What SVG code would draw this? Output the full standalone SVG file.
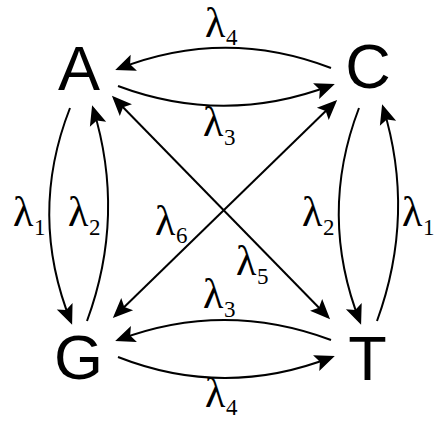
<svg xmlns="http://www.w3.org/2000/svg" width="435" height="421" viewBox="0 0 435 421">
<defs>
<marker id="ah" markerUnits="userSpaceOnUse" markerWidth="24" markerHeight="20" viewBox="-2 -10 24 20" refX="17" refY="0" orient="auto">
<path d="M0,-8.5 L20,0 L0,8.5 L4,0 Z" fill="#000"/>
</marker>
<marker id="ahs" markerUnits="userSpaceOnUse" markerWidth="24" markerHeight="20" viewBox="-2 -10 24 20" refX="17" refY="0" orient="auto-start-reverse">
<path d="M0,-8.5 L20,0 L0,8.5 L4,0 Z" fill="#000"/>
</marker>
</defs>
<style>
.n{font-family:"Liberation Sans",Arial,sans-serif;font-size:63px;fill:#000;text-anchor:middle}
.l{font-family:"Liberation Serif","Times New Roman",serif;font-size:42px;fill:#000}
.s{font-size:23px}
.e{fill:none;stroke:#000;stroke-width:2}
</style>
<rect width="435" height="421" fill="#fff"/>
<g id="connectors">
<path class="e" marker-end="url(#ah)" d="M331,68 Q224,27 118,69"/>
<path class="e" marker-end="url(#ah)" d="M118,86 Q225,126 332,85"/>
<path class="e" marker-end="url(#ah)" d="M331,340 Q224,300 118,340"/>
<path class="e" marker-end="url(#ah)" d="M118,357 Q225,399 332,357"/>
<path class="e" marker-end="url(#ah)" d="M70,108 Q28,215 71,322"/>
<path class="e" marker-end="url(#ah)" d="M87,321 Q126,215 93,108"/>
<path class="e" marker-end="url(#ah)" d="M359,108 Q318,215 360,322"/>
<path class="e" marker-end="url(#ah)" d="M377,321 Q416,214 383,107"/>
<path class="e" marker-start="url(#ahs)" marker-end="url(#ah)" d="M114,98 L328,317"/>
<path class="e" marker-start="url(#ahs)" marker-end="url(#ah)" d="M335,102 L115,316"/>
</g>
<g id="labels">
<text class="l" x="205" y="37">λ<tspan class="s" x="226" y="45">4</tspan></text>
<text class="l" x="203" y="136">λ<tspan class="s" x="224" y="145">3</tspan></text>
<text class="l" x="13" y="226">λ<tspan class="s" x="34" y="235">1</tspan></text>
<text class="l" x="68" y="226">λ<tspan class="s" x="89" y="235">2</tspan></text>
<text class="l" x="155" y="235">λ<tspan class="s" x="176" y="243">6</tspan></text>
<text class="l" x="236" y="275">λ<tspan class="s" x="257" y="284">5</tspan></text>
<text class="l" x="302" y="226">λ<tspan class="s" x="323" y="235">2</tspan></text>
<text class="l" x="402" y="226">λ<tspan class="s" x="423" y="235">1</tspan></text>
<text class="l" x="203" y="308">λ<tspan class="s" x="224" y="317">3</tspan></text>
<text class="l" x="205" y="407">λ<tspan class="s" x="226" y="415">4</tspan></text>
</g>
<g id="node-A"><text class="n" x="79" y="90">A</text></g>
<g id="node-C"><text class="n" x="368" y="88">C</text></g>
<g id="node-G"><text class="n" x="78.5" y="379">G</text></g>
<g id="node-T"><text class="n" x="367.5" y="380">T</text></g>
</svg>
